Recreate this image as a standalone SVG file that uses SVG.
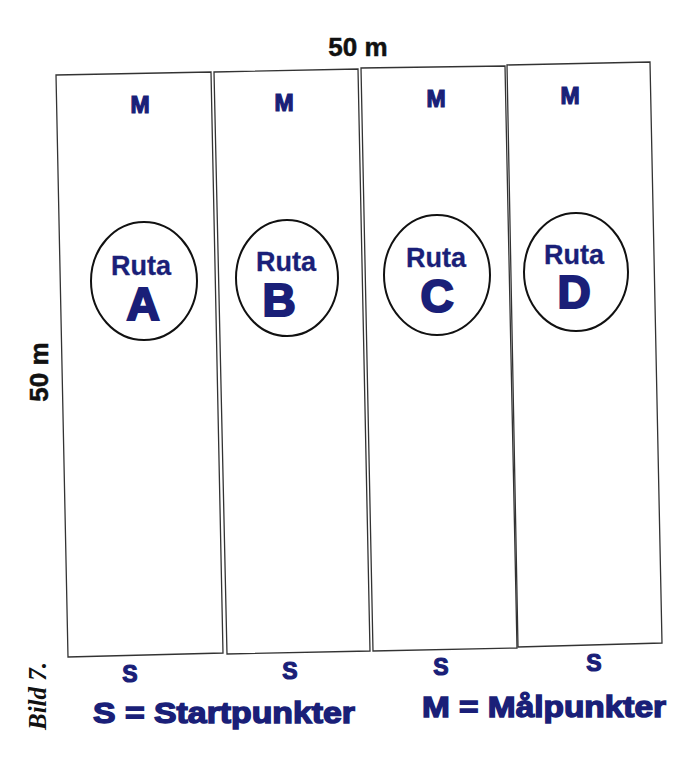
<svg xmlns="http://www.w3.org/2000/svg" width="695" height="757" viewBox="0 0 695 757">
<style>
.lane{fill:#fff;stroke:#333;stroke-width:1.3}
.oval{fill:#fff;stroke:#111;stroke-width:2}
.blue{font-family:"Liberation Sans",Arial,sans-serif;font-weight:bold;fill:#1a1f78;stroke:#1a1f78;text-anchor:middle}
.ruta{font-size:27px;stroke-width:0.3}
.big{font-size:46px;stroke-width:2.2}
.pt{font-size:23px;stroke-width:1.2}
.leg{font-size:29px;stroke-width:1.4;text-anchor:start}
.dim{font-family:"Liberation Sans",Arial,sans-serif;font-weight:bold;fill:#111;stroke:#111;stroke-width:0.5;font-size:26px;text-anchor:middle}
</style>
<rect width="695" height="757" fill="#fff"/>
<g id="laneA">
<polygon class="lane" points="56,75 211,72 223,653 68,657"/>
<text class="blue pt" x="140" y="113">M</text>
<ellipse class="oval" cx="144" cy="281" rx="53" ry="59"/>
<text class="blue ruta" x="141" y="275">Ruta</text>
<text class="blue big" x="143" y="320">A</text>
<text class="blue pt" x="130" y="682">S</text>
</g>
<g id="laneB">
<polygon class="lane" points="214,72 358,69 370,651 227,654"/>
<text class="blue pt" x="284" y="111">M</text>
<ellipse class="oval" cx="287" cy="278" rx="51" ry="58"/>
<text class="blue ruta" x="286" y="271">Ruta</text>
<text class="blue big" x="279" y="316">B</text>
<text class="blue pt" x="290" y="679">S</text>
</g>
<g id="laneC">
<polygon class="lane" points="361,68 505,66 517,648 373,651"/>
<text class="blue pt" x="436" y="107">M</text>
<ellipse class="oval" cx="437" cy="275" rx="53" ry="60"/>
<text class="blue ruta" x="436" y="267">Ruta</text>
<text class="blue big" x="437" y="312">C</text>
<text class="blue pt" x="441" y="675">S</text>
</g>
<g id="laneD">
<polygon class="lane" points="507,65 650,62 662,643 518,647"/>
<text class="blue pt" x="570" y="104">M</text>
<ellipse class="oval" cx="576" cy="272" rx="52" ry="59"/>
<text class="blue ruta" x="574" y="264">Ruta</text>
<text class="blue big" x="574" y="308">D</text>
<text class="blue pt" x="594" y="671">S</text>
</g>
<g id="connectors"></g>
<g id="labels">
<text class="dim" x="358" y="56">50 m</text>
<text class="dim" transform="translate(48,372) rotate(-90)" x="0" y="0">50 m</text>
<text class="blue leg" x="93" y="723" textLength="262" lengthAdjust="spacingAndGlyphs">S = Startpunkter</text>
<text class="blue leg" x="422" y="717" textLength="244" lengthAdjust="spacingAndGlyphs">M = Målpunkter</text>
<text transform="translate(46,696) rotate(-90)" x="0" y="0" style="font-family:'Liberation Serif','Times New Roman',serif;font-style:italic;font-weight:bold;font-size:25px;fill:#111;text-anchor:middle">Bild 7.</text>
</g>
</svg>
